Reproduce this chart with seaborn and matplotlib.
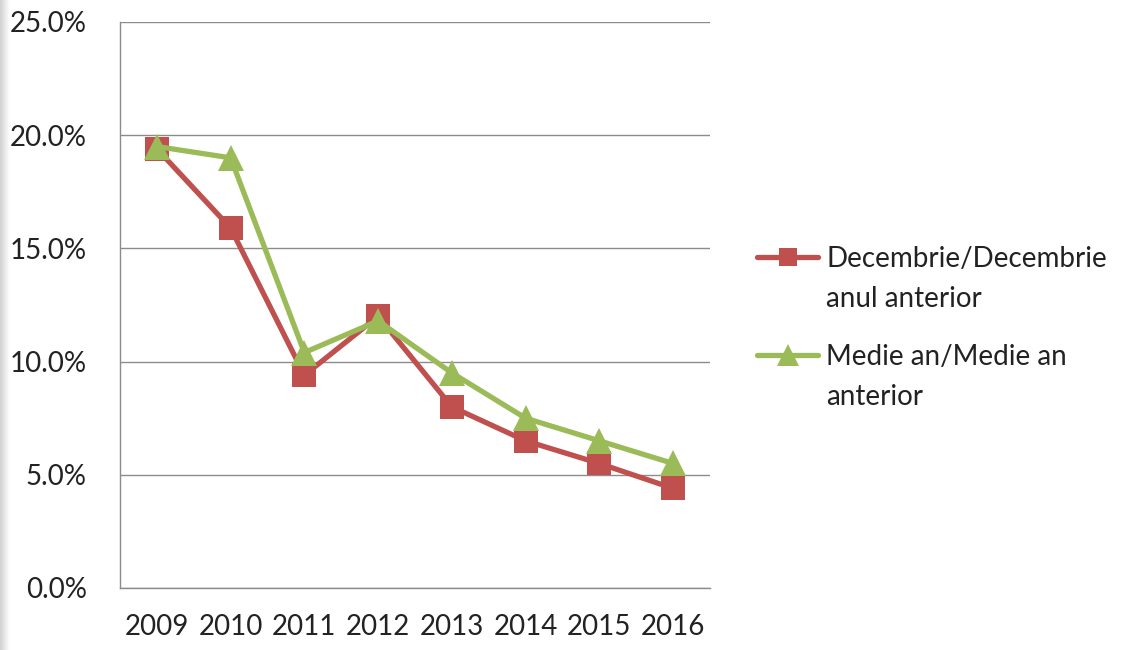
import numpy as np
import pandas as pd
import seaborn as sns
import matplotlib.pyplot as plt
from matplotlib.ticker import FuncFormatter, FixedLocator

years = ['2009', '2010', '2011', '2012', '2013', '2014', '2015', '2016']
dec_dec = [19.4, 15.9, 9.4, 12.0, 8.0, 6.5, 5.5, 4.4]
medie_an = [19.5, 19.0, 10.4, 11.8, 9.5, 7.5, 6.5, 5.5]
labels = ['Decembrie/Decembrie', 'Medie an/Medie an']
labels_cont = ['anul anterior', 'anterior']

sns.set_style('white')
plt.rcParams['font.family'] = ['Lato', 'DejaVu Sans']

fig = plt.figure(figsize=(11.26, 6.5), dpi=100)

# faint grey shading on the left edge
edge = fig.add_axes([0, 0, 10 / 1126, 1])
edge.imshow(np.linspace(0.82, 1.0, 20).reshape(1, -1), cmap='gray', vmin=0, vmax=1,
            aspect='auto', extent=[0, 1, 0, 1])
edge.axis('off')

ax = fig.add_axes([120 / 1126, 62 / 650, 590 / 1126, 566 / 650])

pos = np.arange(len(years))
sns.lineplot(x=pos, y=dec_dec, ax=ax, color='#C0504D', linewidth=3.8,
             marker='s', markersize=17, markeredgewidth=0, label=labels[0])
sns.lineplot(x=pos, y=medie_an, ax=ax, color='#9BBB59', linewidth=3.8,
             marker='^', markersize=19, markeredgewidth=0, label=labels[1])

ax.set_xlim(-0.5, len(years) - 0.5)
ax.set_ylim(0, 25)
ax.set_yticks([0, 5, 10, 15, 20, 25])
ax.yaxis.set_major_formatter(FuncFormatter(lambda v, p: '%.1f%%' % v))
ax.set_xticks(pos)
ax.set_xticklabels(years)
ax.xaxis.set_minor_locator(FixedLocator(np.arange(-0.5, len(years), 1.0)))
ax.tick_params(axis='x', which='major', length=0, pad=28, labelsize=20, colors='#222222')
ax.tick_params(axis='x', which='minor', length=10, color='#888888', width=1, direction='out')
ax.tick_params(axis='y', length=10, color='#888888', width=1, direction='out',
               pad=14, labelsize=20, labelcolor='#222222')
for t in ax.get_xticklabels():
    t.set_verticalalignment('center')
ax.yaxis.grid(True, color='#8c8c8c', linewidth=1)
ax.set_axisbelow(True)
for s in ['top', 'right']:
    ax.spines[s].set_visible(False)
for s in ['left', 'bottom']:
    ax.spines[s].set_color('#8c8c8c')
    ax.spines[s].set_linewidth(1)

# legend: handle sits beside the first line of each label, second line below
handles, labs = ax.get_legend_handles_labels()
ax.legend_.remove()
leg = fig.legend(handles, labs, loc='upper left', bbox_to_anchor=(757 / 1126, 1 - 246 / 650),
                 frameon=False, fontsize=20, handlelength=2.2, labelspacing=2.6,
                 handletextpad=0.3, borderpad=0, borderaxespad=0, markerscale=0.8,
                 labelcolor='#222222')
fig.canvas.draw()
inv = fig.transFigure.inverted()
for t, extra in zip(leg.get_texts(), labels_cont):
    bb = t.get_window_extent()
    x0, y0 = inv.transform((bb.x0, bb.y0))
    fig.text(x0, y0 - 40 / 650, extra, fontsize=20, color='#222222', va='bottom', ha='left')

fig.savefig('out.png', dpi=100)
